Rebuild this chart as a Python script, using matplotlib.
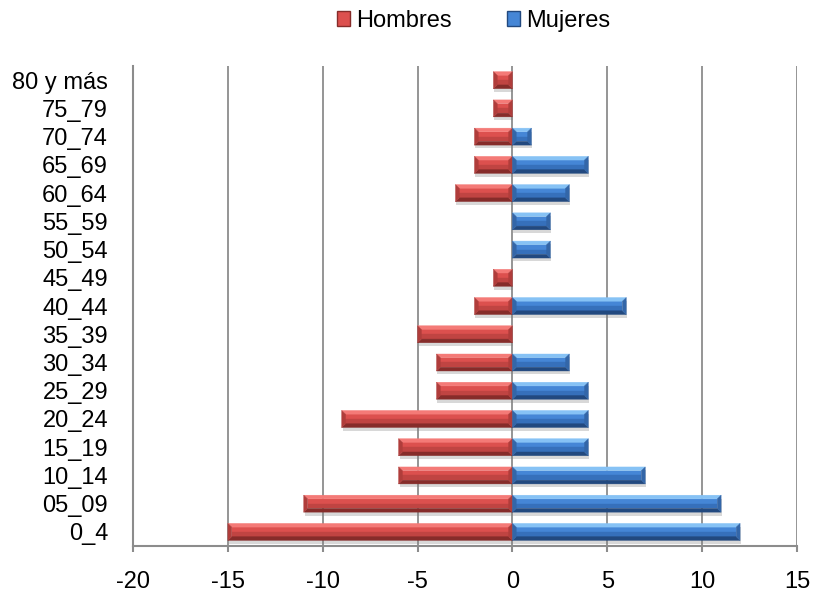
import numpy as np
import matplotlib.pyplot as plt
from matplotlib.collections import PolyCollection
from matplotlib.patches import Patch

plt.rcParams['font.family'] = ['Liberation Sans', 'DejaVu Sans']
plt.rcParams['axes.unicode_minus'] = False

# age groups, bottom to top
grupos = ["0_4", "05_09", "10_14", "15_19", "20_24", "25_29", "30_34", "35_39",
          "40_44", "45_49", "50_54", "55_59", "60_64", "65_69", "70_74", "75_79", "80 y más"]
hombres = [-15, -11, -6, -6, -9, -4, -4, -5, -2, -1, 0, 0, -3, -2, -2, -1, -1]
mujeres = [12, 11, 7, 4, 4, 4, 3, 0, 6, 0, 2, 2, 3, 4, 1, 0, 0]

# face top / face bottom / top bevel / bottom bevel / side bevel
red = {'face': '#dc504e', 'face2': '#c04442', 'top': '#f47a77', 'bot': '#862c2a', 'side': '#b03d3b'}
blue = {'face': '#4586d6', 'face2': '#3670bb', 'top': '#86c2f5', 'bot': '#22497f', 'side': '#3366a8'}

fig = plt.figure(figsize=(8.13, 5.97), dpi=100)
ax = fig.add_axes([0.1636, 0.0854, 0.8167, 0.804])

y = np.arange(len(grupos))
h = 0.6
bx, by = 0.2, 0.13


def draw_bars(vals, c):
    shadow, faces, faces2, tops, bots, sides = [], [], [], [], [], []
    for yc, v in zip(y, vals):
        if v == 0:
            continue
        x0, x1 = min(0, v), max(0, v)
        y0, y1 = yc - h / 2, yc + h / 2
        ex = min(bx, (x1 - x0) / 2)
        ym = (y0 + y1) / 2
        shadow.append([(x0 + 0.05, y0 - 0.12), (x1 + 0.05, y0 - 0.12), (x1 + 0.05, y1 - 0.12), (x0 + 0.05, y1 - 0.12)])
        faces.append([(x0 + ex, ym), (x1 - ex, ym), (x1 - ex, y1 - by), (x0 + ex, y1 - by)])
        faces2.append([(x0 + ex, y0 + by), (x1 - ex, y0 + by), (x1 - ex, ym), (x0 + ex, ym)])
        tops.append([(x0, y1), (x1, y1), (x1 - ex, y1 - by), (x0 + ex, y1 - by)])
        bots.append([(x0, y0), (x1, y0), (x1 - ex, y0 + by), (x0 + ex, y0 + by)])
        sides.append([(x0, y0), (x0, y1), (x0 + ex, y1 - by), (x0 + ex, y0 + by)])
        sides.append([(x1, y0), (x1, y1), (x1 - ex, y1 - by), (x1 - ex, y0 + by)])
    ax.add_collection(PolyCollection(shadow, facecolors='#808080', alpha=0.3, edgecolors='none', zorder=2))
    ax.add_collection(PolyCollection(faces, facecolors=c['face'], edgecolors=c['face'], linewidths=0.3, zorder=3))
    ax.add_collection(PolyCollection(faces2, facecolors=c['face2'], edgecolors=c['face2'], linewidths=0.3, zorder=3))
    ax.add_collection(PolyCollection(tops, facecolors=c['top'], edgecolors=c['top'], linewidths=0.3, zorder=4))
    ax.add_collection(PolyCollection(bots, facecolors=c['bot'], edgecolors=c['bot'], linewidths=0.3, zorder=4))
    ax.add_collection(PolyCollection(sides, facecolors=c['side'], edgecolors=c['side'], linewidths=0.3, zorder=4))


draw_bars(hombres, red)
draw_bars(mujeres, blue)

ax.set_xlim(-20, 15)
ax.set_ylim(-0.5, len(grupos) - 0.5)
ax.set_xticks(np.arange(-20, 16, 5))
ax.set_yticks(y)
ax.set_yticklabels(grupos)
ax.tick_params(axis='y', length=0, labelsize=17, pad=18)
ax.tick_params(axis='x', length=4, color='#8c8c8c', width=1.5, labelsize=17, pad=14)

ax.grid(axis='x', color='#8c8c8c', linewidth=1.3, zorder=0)
ax.set_axisbelow(True)
for s in ['top', 'right']:
    ax.spines[s].set_visible(False)
for s in ['left', 'bottom']:
    ax.spines[s].set_color('#8c8c8c')
    ax.spines[s].set_linewidth(1.5)

handles = [Patch(facecolor=red['face'], edgecolor=red['bot']),
           Patch(facecolor=blue['face'], edgecolor=blue['bot'])]
fig.legend(handles, ['Hombres', 'Mujeres'], loc='center', bbox_to_anchor=(0.583, 0.965),
           ncol=2, frameon=False, fontsize=17, handlelength=0.55, handleheight=0.55,
           handletextpad=0.25, columnspacing=2.35)

fig.savefig('out.png', dpi=100)
